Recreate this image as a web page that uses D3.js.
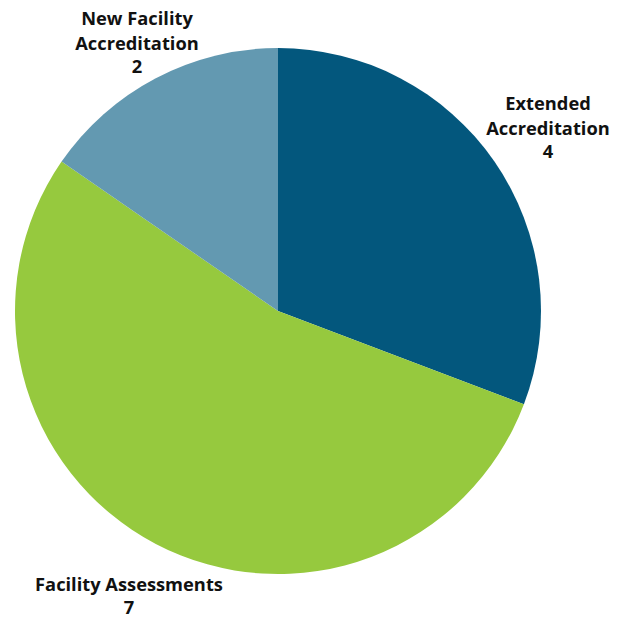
<!DOCTYPE html>
<html>
<head>
<meta charset="utf-8">
<script src="https://cdn.jsdelivr.net/npm/d3@7"></script>
<style>
  body { margin: 0; background: #fff; }
  svg text { font-family: "Open Sans", "Noto Sans", sans-serif; font-weight: 700; font-size: 18.3px; fill: #111; }
</style>
</head>
<body>
<svg id="chart" width="622" height="617"></svg>
<script>
"use strict";

// Data
var categories = ["Extended Accreditation", "Facility Assessments", "New Facility Accreditation"];
var values = [4, 7, 2];
var labelLines = [["Extended", "Accreditation", "4"], ["Facility Assessments", "7"], ["New Facility", "Accreditation", "2"]];
var colors = ["#03577d", "#96c93e", "#6399b1"];

// label anchor spots (center of first line baseline)
var labelSpots = [[548, 110], [129, 591], [137, 25]];

var cx = 278, cy = 311, radius = 263;

var svg = d3.select("#chart");
var g = svg.append("g").attr("transform", "translate(" + cx + "," + cy + ")");

var pie = d3.pie().sort(null).value(function (d) { return d; });
var arc = d3.arc().innerRadius(0).outerRadius(radius);

var slices = pie(values);

g.selectAll(".slice")
    .data(slices)
    .enter()
    .append("path")
    .attr("class", "slice")
    .attr("d", arc)
    .attr("fill", function (d, i) { return colors[i]; });

var labels = svg.selectAll(".label")
    .data(categories)
    .enter()
    .append("text")
    .attr("class", "label")
    .attr("text-anchor", "middle")
    .attr("x", function (d, i) { return labelSpots[i][0]; })
    .attr("y", function (d, i) { return labelSpots[i][1]; });

labels.each(function (d, i) {
    var t = d3.select(this);
    var lines = labelLines[i];
    lines.forEach(function (line, j) {
        t.append("tspan")
            .attr("x", labelSpots[i][0])
            .attr("dy", j === 0 ? 0 : (j === lines.length - 1 ? 22.5 : 25))
            .text(line);
    });
});
</script>
</body>
</html>
